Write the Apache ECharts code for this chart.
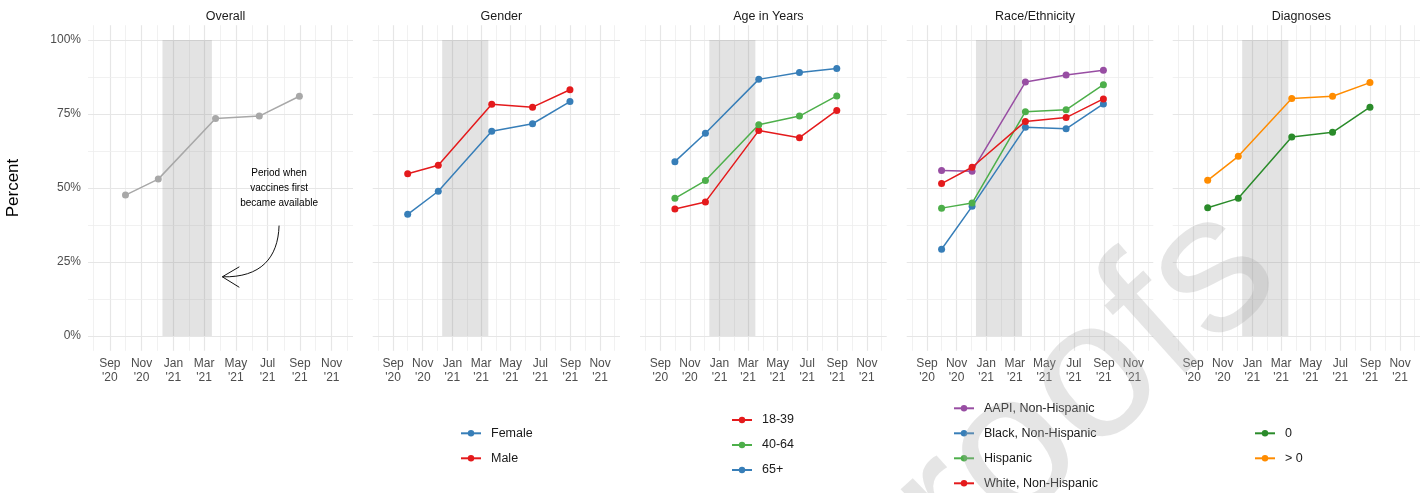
<!DOCTYPE html>
<html>
<head>
<meta charset="utf-8">
<script src="https://cdn.jsdelivr.net/npm/echarts@6/dist/echarts.min.js"></script>
<style>
  html, body { margin: 0; padding: 0; background: #fff; }
  #chart { width: 1426px; height: 493px; }
</style>
</head>
<body>
<div id="chart"></div>
<script>
// Survey waves (mid-point dates) and share of respondents, in percent
const waveDates = ['2020-10-01', '2020-12-03', '2021-03-23', '2021-06-15', '2021-08-31'];

const overall   = [47.6, 53.0, 73.5, 74.3, 81.0];
const female    = [41.1, 48.9, 69.2, 71.7, 79.2];
const male      = [54.8, 57.7, 78.3, 77.3, 83.2];
const age18to39 = [42.9, 45.3, 69.4, 67.0, 76.2];
const age40to64 = [46.5, 52.5, 71.4, 74.3, 81.1];
const age65plus = [58.9, 68.5, 86.7, 89.0, 90.4];
const aapi      = [55.9, 55.7, 85.8, 88.2, 89.8];
const black     = [29.3, 43.8, 70.5, 70.0, 78.4];
const hispanic  = [43.2, 44.9, 75.8, 76.4, 84.9];
const white     = [51.5, 57.0, 72.5, 73.8, 80.1];
const diagNone  = [43.3, 46.5, 67.2, 68.8, 77.3];
const diagAny   = [52.6, 60.7, 80.2, 81.0, 85.6];

const panelTitles = ['Overall', 'Gender', 'Age in Years', 'Race/Ethnicity', 'Diagnoses'];

// Period when vaccines first became available
const vaccineStart = '2020-12-11';
const vaccineEnd = '2021-03-16';

// Axis ticks
const xTickDates = ['2020-09-01', '2020-11-01', '2021-01-01', '2021-03-01', '2021-05-01', '2021-07-01', '2021-09-01', '2021-11-01'];
const xMinorDates = ['2020-08-01', '2020-10-01', '2020-12-01', '2021-02-01', '2021-04-01', '2021-06-01', '2021-08-01', '2021-10-01', '2021-12-01'];
const yTicks = [0, 25, 50, 75, 100];
const yMinorTicks = [12.5, 37.5, 62.5, 87.5];
const xRange = ['2020-07-21', '2021-12-12'];
const yRange = [-5, 105];

const monthNames = ['Jan', 'Feb', 'Mar', 'Apr', 'May', 'Jun', 'Jul', 'Aug', 'Sep', 'Oct', 'Nov', 'Dec'];
function ts(s) {
  const p = s.split('-').map(Number);
  return Date.UTC(p[0], p[1] - 1, p[2]);
}
function pairs(values) {
  return waveDates.map((d, i) => [ts(d), values[i]]);
}

const FONT = '"Liberation Sans", Arial, Helvetica, sans-serif';

// Panel geometry
const gridLeft = [88, 372.7, 640, 906.7, 1172.7];
const gridWidth = [265, 247.3, 246.7, 246.6, 247.3];
const gridTop = 25.2;
const gridHeight = 325.6;

// Lines per panel
const panelSeries = [
  [{ name: 'Overall', values: overall, color: '#a8a8a8' }],
  [{ name: 'Female', values: female, color: '#377EB8' },
   { name: 'Male', values: male, color: '#E41A1C' }],
  [{ name: '18-39', values: age18to39, color: '#E41A1C' },
   { name: '40-64', values: age40to64, color: '#4DAF4A' },
   { name: '65+', values: age65plus, color: '#377EB8' }],
  [{ name: 'AAPI, Non-Hispanic', values: aapi, color: '#984EA3' },
   { name: 'Black, Non-Hispanic', values: black, color: '#377EB8' },
   { name: 'Hispanic', values: hispanic, color: '#4DAF4A' },
   { name: 'White, Non-Hispanic', values: white, color: '#E41A1C' }],
  [{ name: '0', values: diagNone, color: '#2a8b2a' },
   { name: '> 0', values: diagAny, color: '#FF8C00' }]
];

const grids = [], xAxes = [], yAxes = [], titles = [], series = [];

const majorGrid = { color: '#e6e6e6', width: 1.2, type: 'solid' };
const minorGrid = { color: '#eeeeee', width: 0.8, type: 'solid' };

panelTitles.forEach((title, i) => {
  grids.push({ left: gridLeft[i], top: gridTop, width: gridWidth[i], height: gridHeight, containLabel: false });
  titles.push({
    text: title,
    left: gridLeft[i] + gridWidth[i] / 2,
    textAlign: 'center',
    top: 5,
    textStyle: { fontFamily: FONT, fontSize: 12.5, fontWeight: 'normal', color: '#1a1a1a' }
  });
  // Dates are carried as UTC timestamps on a numeric axis
  xAxes.push({
    type: 'value',
    gridIndex: i,
    min: ts(xRange[0]),
    max: ts(xRange[1]),
    axisLine: { show: false },
    axisTick: { show: false },
    splitLine: { show: false },
    axisLabel: {
      customValues: xTickDates.map(ts),
      formatter: (v) => {
        const d = new Date(v);
        return monthNames[d.getUTCMonth()] + "\n'" + String(d.getUTCFullYear()).slice(2);
      },
      fontFamily: FONT,
      fontSize: 12,
      lineHeight: 14,
      color: '#4d4d4d',
      margin: 6,
      hideOverlap: false
    }
  });
  yAxes.push({
    type: 'value',
    gridIndex: i,
    min: yRange[0],
    max: yRange[1],
    axisLine: { show: false },
    axisTick: { show: false },
    splitLine: { show: false },
    name: i === 0 ? 'Percent' : '',
    nameLocation: 'middle',
    nameGap: 66,
    nameTextStyle: { fontFamily: FONT, fontSize: 17, color: '#000' },
    axisLabel: {
      show: i === 0,
      customValues: yTicks,
      formatter: (v) => v + '%',
      fontFamily: FONT,
      fontSize: 12,
      color: '#4d4d4d',
      margin: 7
    }
  });

  // Background grid and vaccine-period shading
  const gridLines = [];
  xMinorDates.forEach(d => gridLines.push({ xAxis: ts(d), lineStyle: minorGrid }));
  xTickDates.forEach(d => gridLines.push({ xAxis: ts(d), lineStyle: majorGrid }));
  yMinorTicks.forEach(v => gridLines.push({ yAxis: v, lineStyle: minorGrid }));
  yTicks.forEach(v => gridLines.push({ yAxis: v, lineStyle: majorGrid }));

  series.push({
    type: 'line',
    name: 'grid-' + i,
    xAxisIndex: i,
    yAxisIndex: i,
    data: [],
    silent: true,
    z: 0,
    markLine: {
      silent: true,
      z: 0,
      symbol: ['none', 'none'],
      label: { show: false },
      emphasis: { disabled: true },
      animation: false,
      data: gridLines
    },
    markArea: {
      silent: true,
      z: 1,
      itemStyle: { color: 'rgba(128,128,128,0.22)' },
      label: { show: false },
      emphasis: { disabled: true },
      data: [[{ xAxis: ts(vaccineStart), yAxis: 0 }, { xAxis: ts(vaccineEnd), yAxis: 100 }]]
    }
  });

  panelSeries[i].forEach(s => {
    series.push({
      type: 'line',
      name: s.name,
      xAxisIndex: i,
      yAxisIndex: i,
      data: pairs(s.values),
      z: 3,
      symbol: 'circle',
      symbolSize: 7,
      showSymbol: true,
      color: s.color,
      itemStyle: { color: s.color },
      lineStyle: { color: s.color, width: 1.5 },
      emphasis: { disabled: true }
    });
  });
});

// Legends beneath the subgroup panels
const legendPlacement = [
  null,
  { left: 460, top: 425.3 },
  { left: 731, top: 412 },
  { left: 953, top: 400.3 },
  { left: 1254, top: 425.3 }
];
const legends = [];
panelSeries.forEach((list, i) => {
  if (!legendPlacement[i]) return;
  legends.push({
    orient: 'vertical',
    left: legendPlacement[i].left,
    top: legendPlacement[i].top,
    padding: 0,
    itemWidth: 20,
    itemHeight: 8,
    itemGap: 9,
    selectedMode: false,
    data: list.map(s => s.name),
    textStyle: { fontFamily: FONT, fontSize: 12.5, color: '#1a1a1a', lineHeight: 16, padding: [0, 0, 0, 5] }
  });
});

const chart = echarts.init(document.getElementById('chart'), null, { renderer: 'canvas' });
chart.setOption({
  animation: false,
  backgroundColor: '#ffffff',
  title: titles,
  grid: grids,
  xAxis: xAxes,
  yAxis: yAxes,
  legend: legends,
  tooltip: { show: false },
  series: series
});

// Annotation in the first panel: note plus curved arrow pointing at the shaded period
const noteAnchor = ['2021-07-23', 49.8];
const arrowFrom = ['2021-07-23', 37.3];
const arrowTo = ['2021-04-05', 20.0];
const toPx = (pt) => chart.convertToPixel({ gridIndex: 0 }, [ts(pt[0]), pt[1]]);
const note = toPx(noteAnchor);
const a0 = toPx(arrowFrom);
const a1 = toPx(arrowTo);

chart.setOption({
  graphic: [
    {
      type: 'text',
      x: note[0],
      y: note[1],
      z: 10,
      silent: true,
      style: {
        text: 'Period when\nvaccines first\nbecame available',
        fontFamily: FONT,
        fontSize: 10,
        lineHeight: 15,
        align: 'center',
        verticalAlign: 'middle',
        fill: '#000'
      }
    },
    {
      type: 'bezierCurve',
      z: 10,
      silent: true,
      shape: {
        x1: a0[0], y1: a0[1],
        cpx1: a0[0] - 1, cpy1: a0[1] + 32,
        cpx2: a0[0] - 18, cpy2: a1[1] + 1,
        x2: a1[0], y2: a1[1]
      },
      style: { stroke: '#111', lineWidth: 1, fill: null }
    },
    {
      type: 'polyline',
      z: 10,
      silent: true,
      shape: { points: [[a1[0] + 17, a1[1] - 10], [a1[0], a1[1]], [a1[0] + 17, a1[1] + 10.5]] },
      style: { stroke: '#111', lineWidth: 1, fill: null }
    },
    {
      // diagonal page stamp
      type: 'text',
      x: 990,
      y: 608,
      rotation: 42 * Math.PI / 180,
      z: 50,
      silent: true,
      style: {
        text: 'roofs',
        fontFamily: FONT,
        fontSize: 197,
        align: 'left',
        verticalAlign: 'bottom',
        fill: 'rgba(170,170,170,0.3)'
      }
    }
  ]
});
</script>
</body>
</html>
